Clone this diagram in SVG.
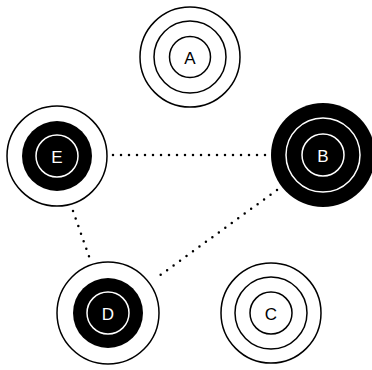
<svg xmlns="http://www.w3.org/2000/svg" width="372" height="370" viewBox="0 0 372 370">
<style>
.ring{fill:none;stroke:#000;stroke-width:1.5}
.wring{fill:none;stroke:#fff;stroke-width:1.5}
.disk{fill:#000}
.lbl{font-family:"Liberation Sans",Arial,sans-serif;font-size:17px;text-anchor:middle;dominant-baseline:central}
.dk{fill:#000}
.lt{fill:#fff}
.edge{fill:none;stroke:#000;stroke-width:2.5;stroke-linecap:round;stroke-dasharray:0 8}
</style>
<rect width="372" height="370" fill="#fff"/>
<g id="connectors">
<line class="edge" x1="113" y1="155" x2="266" y2="155"/>
<line class="edge" x1="73" y1="211" x2="91" y2="262"/>
<line class="edge" x1="277" y1="190" x2="155" y2="279"/>
</g>
<g id="node-A">
<circle class="ring" cx="190" cy="57" r="50"/>
<circle class="ring" cx="190" cy="57" r="36"/>
<circle class="ring" cx="190" cy="57" r="20.5"/>
<text class="lbl dk" x="190" y="58">A</text>
</g>
<g id="node-E">
<circle class="ring" cx="57" cy="156" r="50"/>
<circle class="disk" cx="57" cy="156" r="35"/>
<circle class="wring" cx="57" cy="156" r="21"/>
<text class="lbl lt" x="57" y="157">E</text>
</g>
<g id="node-B">
<circle class="disk" cx="323" cy="155" r="52"/>
<circle class="wring" cx="323" cy="155" r="37"/>
<circle class="wring" cx="323" cy="155" r="21"/>
<text class="lbl lt" x="323" y="156">B</text>
</g>
<g id="node-D">
<circle class="ring" cx="108" cy="313" r="51"/>
<circle class="disk" cx="108" cy="313" r="35"/>
<circle class="wring" cx="108" cy="313" r="21"/>
<text class="lbl lt" x="108" y="314">D</text>
</g>
<g id="node-C">
<circle class="ring" cx="271" cy="313" r="50"/>
<circle class="ring" cx="271" cy="313" r="36"/>
<circle class="ring" cx="271" cy="313" r="21"/>
<text class="lbl dk" x="271" y="314">C</text>
</g>
</svg>
